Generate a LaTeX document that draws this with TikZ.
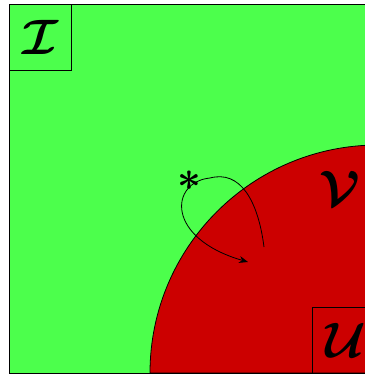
\documentclass[tikz,border=0pt]{standalone}
\usepackage{amsmath,amssymb}
\usetikzlibrary{positioning,arrows.meta}

\colorlet{outside}{green!70}
\colorlet{inside}{red!80!black}
\tikzset{setfont/.style={font=\fontsize{29}{30}\selectfont\boldmath},
  setbox/.style={draw, thin, minimum width=31pt, minimum height=33pt, inner sep=0pt, setfont}}

\begin{document}
\begin{tikzpicture}[x=.5pt,y=-.5pt]
\useasboundingbox (0,0) rectangle (365,376);
\clip (0,0) rectangle (365,376);
\draw[fill=outside] (9,4) rectangle (378,373);
\draw[fill=inside] (150,373) arc[start angle=180, end angle=270, radius=228] -- (378,373) -- cycle;
\draw (9,4) rectangle (378,373);
\node[setbox, anchor=north west] (setI) at (9,4) {$\mathcal{I}$};
\node[setbox, minimum width=33pt, anchor=north west] (setU) at (312,307) {$\mathcal{U}$};
\node[setfont] (setV) at (340,188) {$\mathcal{V}$};
\coordinate (start) at (264,247);
\coordinate (top) at (210,178);
\coordinate (stop) at (248,262);
\node[font=\huge\boldmath, inner sep=0pt] (star) at (189,181) {$*$};
\draw[-{Stealth[length=4.5pt,width=3.5pt]}] (start) .. controls (258,200) and (240,170) .. (top) .. controls (170,182) and (165,238) .. (stop);
\end{tikzpicture}
\end{document}
